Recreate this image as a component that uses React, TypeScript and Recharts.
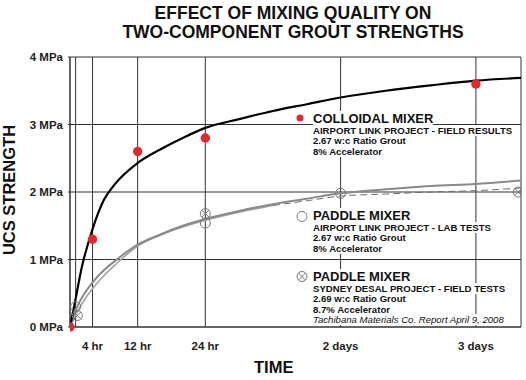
import React from 'react';
import { ComposedChart, Line, Scatter, XAxis, YAxis, CartesianGrid } from 'recharts';

// curve sample times (hours) and fitted strength curves (MPa)
const hours = [0, 1, 2, 4, 6, 8, 12, 16, 20, 24, 30, 36, 42, 48, 56, 64, 72, 80];
const colloidalCurve = [0, 0.42, 0.85, 1.45, 1.88, 2.12, 2.43, 2.63, 2.8, 2.95, 3.08, 3.2, 3.3, 3.4, 3.5, 3.58, 3.65, 3.69];
const labCurve = [0, 0.25, 0.42, 0.66, 0.84, 0.98, 1.22, 1.37, 1.5, 1.6, 1.72, 1.82, 1.9, 1.98, 2.04, 2.09, 2.12, 2.17];
const sydneyCurve = [0, 0.18, 0.33, 0.57, 0.76, 0.92, 1.2, 1.36, 1.48, 1.58, 1.7, 1.8, 1.87, 1.94, 1.97, 2.0, 2.02, 2.06];

// test results
const colloidalHours = [0, 4, 12, 24, 72];
const colloidalValues = [0, 1.3, 2.6, 2.8, 3.6];
const labHours = [1, 24, 48];
const labValues = [0.3, 1.54, 1.98];
const sydneyHours = [1.3, 24, 79.5];
const sydneyValues = [0.17, 1.68, 2.0];

const xTicks = [1, 4, 12, 24, 48, 72, 80];
const xTickLabels = ['', '4 hr', '12 hr', '24 hr', '2 days', '3 days', ''];
const yTicks = [0, 1, 2, 3, 4];

const FONT = "'Liberation Sans', Arial, sans-serif";
const RED = '#e2282c';

const zip = (xs: number[], ys: number[]) => xs.map((x, i) => ({ x, y: ys[i] }));
const colloidalLine = zip(hours, colloidalCurve);
const labLine = zip(hours, labCurve);
const sydneyLine = zip(hours, sydneyCurve);
const sydneySolid = sydneyLine.filter((p) => p.x <= 36);
const sydneyDashed = sydneyLine.filter((p) => p.x >= 36);

const RedDot = (p: any) => <circle cx={p.cx} cy={p.cy} r={4.7} fill={RED} />;
const OpenCircle = (p: any) => <circle cx={p.cx} cy={p.cy} r={5} fill="none" stroke="#777" strokeWidth={1} />;
const CrossCircle = (p: any) => {
  const d = 3.5;
  return (
    <g stroke="#777" strokeWidth={1} fill="none">
      <circle cx={p.cx} cy={p.cy} r={5} />
      <line x1={p.cx - d} y1={p.cy - d} x2={p.cx + d} y2={p.cy + d} />
      <line x1={p.cx - d} y1={p.cy + d} x2={p.cx + d} y2={p.cy - d} />
    </g>
  );
};

const XTick = (p: any) => {
  const i = xTicks.indexOf(p.payload.value);
  return (
    <text x={p.x} y={p.y + 15} textAnchor="middle" fontFamily={FONT} fontSize={11.5} fontWeight="bold" fill="#222">
      {xTickLabels[i]}
    </text>
  );
};

const line = (text: string, size: number, lh: number, extra: React.CSSProperties = {}) => (
  <div style={{ fontSize: size, lineHeight: lh + 'px', whiteSpace: 'nowrap' }}>
    <span style={{ background: '#fff', ...extra }}>{text}</span>
  </div>
);

const LegendBlock = ({ top, symbol, title, rows, note }: any) => (
  <div style={{ position: 'absolute', left: 313, top, fontFamily: FONT, fontWeight: 'bold', color: '#111' }}>
    <svg width={14} height={14} style={{ position: 'absolute', left: -18, top: 0 }}>{symbol}</svg>
    {line(title, 13, 14)}
    {rows.map((r: string) => <React.Fragment key={r}>{line(r, 9.6, 10.5)}</React.Fragment>)}
    {note && line(note, 9.6, 10.5, { fontWeight: 'normal', fontStyle: 'italic' })}
  </div>
);

export default function App() {
  return (
    <div style={{ position: 'absolute', left: 0, top: 0, width: 526, height: 380, background: '#fff', fontFamily: FONT }}>
      <ComposedChart width={526} height={380} margin={{ top: 57, right: 5, bottom: 23, left: 0 }}>
        <CartesianGrid stroke="#333" strokeWidth={1} fill="none" />
        <XAxis
          type="number"
          dataKey="x"
          domain={[0, 80]}
          ticks={xTicks}
          tick={<XTick />}
          tickLine={false}
          height={30}
          axisLine={{ stroke: '#333' }}
          allowDataOverflow
        />
        <YAxis
          type="number"
          dataKey="y"
          domain={[0, 4]}
          ticks={yTicks}
          width={70}
          tickSize={2}
          tickMargin={5}
          tickLine={{ stroke: '#333' }}
          axisLine={{ stroke: '#333' }}
          tickFormatter={(v) => `${v} MPa`}
          tick={{ fontFamily: FONT, fontSize: 11.5, fontWeight: 'bold', fill: '#222' }}
        />
        <Line data={sydneySolid} dataKey="y" type="monotone" stroke="#a2a2a2" strokeWidth={1.6} dot={false} activeDot={false} isAnimationActive={false} />
        <Line data={sydneyDashed} dataKey="y" type="monotone" stroke="#6e6e6e" strokeWidth={1} strokeDasharray="7 4" dot={false} activeDot={false} isAnimationActive={false} />
        <Line data={labLine} dataKey="y" type="monotone" stroke="#8a8a8a" strokeWidth={2} dot={false} activeDot={false} isAnimationActive={false} />
        <Line data={colloidalLine} dataKey="y" type="monotone" stroke="#000" strokeWidth={2.2} dot={false} activeDot={false} isAnimationActive={false} />
        <Scatter data={zip(labHours, labValues)} dataKey="y" shape={OpenCircle} isAnimationActive={false} />
        <Scatter data={zip(sydneyHours, sydneyValues)} dataKey="y" shape={CrossCircle} isAnimationActive={false} />
        <Scatter data={zip(colloidalHours, colloidalValues)} dataKey="y" shape={RedDot} isAnimationActive={false} />
      </ComposedChart>

      <div style={{ position: 'absolute', left: 0, width: 586, top: 3.5, textAlign: 'center', fontWeight: 'bold', fontSize: 17.5, lineHeight: '19.5px', color: '#111' }}>
        EFFECT OF MIXING QUALITY ON<br />TWO-COMPONENT GROUT STRENGTHS
      </div>
      <div style={{ position: 'absolute', left: 9, top: 190, width: 0, height: 0 }}>
        <div style={{ position: 'absolute', transform: 'translate(-50%, -50%) rotate(-90deg)', fontWeight: 'bold', fontSize: 16.5, whiteSpace: 'nowrap', color: '#111' }}>
          UCS STRENGTH
        </div>
      </div>
      <div style={{ position: 'absolute', left: 254, top: 358, fontWeight: 'bold', fontSize: 16.5, color: '#111' }}>TIME</div>

      <LegendBlock
        top={111.5}
        symbol={<circle cx={5} cy={6} r={3.5} fill={RED} />}
        title="COLLOIDAL MIXER"
        rows={['AIRPORT LINK PROJECT - FIELD RESULTS', '2.67 w:c Ratio Grout', '8% Accelerator']}
      />
      <LegendBlock
        top={208.5}
        symbol={<circle cx={7} cy={7.5} r={5} fill="none" stroke="#777" />}
        title="PADDLE MIXER"
        rows={['AIRPORT LINK PROJECT - LAB TESTS', '2.67 w:c Ratio Grout', '8% Accelerator']}
      />
      <LegendBlock
        top={269.5}
        symbol={<CrossCircle cx={7} cy={6.5} />}
        title="PADDLE MIXER"
        rows={['SYDNEY DESAL PROJECT - FIELD TESTS', '2.69 w:c Ratio Grout', '8.7% Accelerator']}
        note="Tachibana Materials Co. Report April 9, 2008"
      />
    </div>
  );
}
